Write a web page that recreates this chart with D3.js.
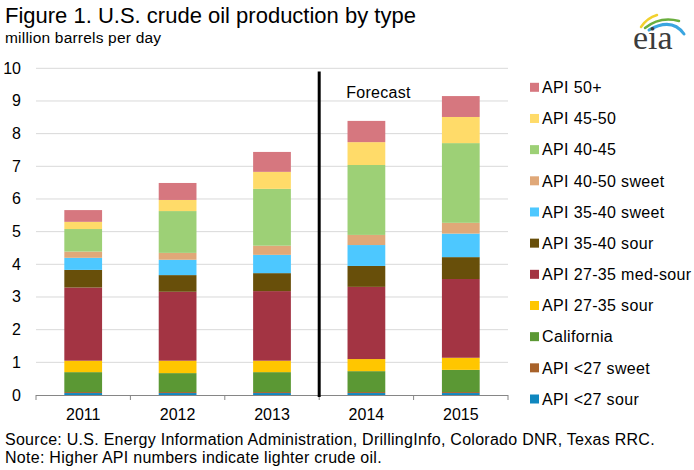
<!DOCTYPE html>
<html>
<head>
<meta charset="utf-8">
<script src="https://cdn.jsdelivr.net/npm/d3@7"></script>
<style>
  body { margin: 0; background: #fff; }
  svg { font-family: "Liberation Sans", Arial, sans-serif; }
</style>
</head>
<body>
<svg id="chart" width="694" height="470"></svg>
<script>
// years on the x axis
var years = ["2011", "2012", "2013", "2014", "2015"];

// series, bottom of the stack first
var seriesNames = ["API <27 sour", "API <27 sweet", "California", "API 27-35 sour", "API 27-35 med-sour",
  "API 35-40 sour", "API 35-40 sweet", "API 40-50 sweet", "API 40-45", "API 45-50", "API 50+"];
var seriesColors = ["#0f87bf", "#a8622a", "#5b9834", "#ffc600", "#a33443",
  "#684f0a", "#4dc8ff", "#e0a878", "#9dd076", "#ffdb69", "#d6777f"];

// million barrels per day, one value per year
var api27sour     = [0.06, 0.06, 0.06, 0.06, 0.06];
var api27sweet    = [0.03, 0.03, 0.03, 0.03, 0.03];
var california    = [0.61, 0.58, 0.61, 0.64, 0.68];
var api2735sour   = [0.35, 0.38, 0.35, 0.37, 0.37];
var api2735med    = [2.24, 2.11, 2.13, 2.21, 2.41];
var api3540sour   = [0.54, 0.51, 0.55, 0.64, 0.67];
var api3540sweet  = [0.37, 0.47, 0.56, 0.64, 0.72];
var api4050sweet  = [0.19, 0.21, 0.28, 0.31, 0.33];
var api4045       = [0.69, 1.28, 1.74, 2.14, 2.44];
var api4550       = [0.22, 0.34, 0.52, 0.70, 0.80];
var api50         = [0.36, 0.52, 0.61, 0.65, 0.64];

var seriesValues = [api27sour, api27sweet, california, api2735sour, api2735med,
  api3540sour, api3540sweet, api4050sweet, api4045, api4550, api50];

var yTicks = [0, 1, 2, 3, 4, 5, 6, 7, 8, 9, 10];
var forecastFrom = "2014";

// rows for d3.stack
var rows = years.map(function (yr, i) {
  var r = { year: yr };
  seriesNames.forEach(function (name, j) { r[name] = seriesValues[j][i]; });
  return r;
});

var svg = d3.select("#chart");

var x = d3.scaleBand().domain(years).range([36, 508]).paddingInner(0.6).paddingOuter(0.3);
var y = d3.scaleLinear().domain([0, 10]).range([395, 68.3]);

// gridlines
svg.append("g").selectAll("line")
  .data(yTicks.filter(function (d) { return d > 0; }))
  .enter().append("line")
  .attr("x1", 36).attr("x2", 508)
  .attr("y1", function (d) { return y(d); })
  .attr("y2", function (d) { return y(d); })
  .attr("stroke", "#d9d9d9").attr("stroke-width", 1);

// y labels
svg.append("g").selectAll("text")
  .data(yTicks)
  .enter().append("text")
  .attr("x", 21)
  .attr("y", function (d) { return y(d) + 5.5; })
  .attr("text-anchor", "end")
  .attr("font-size", 16)
  .text(function (d) { return d; });

// stacked bars
var stacked = d3.stack().keys(seriesNames)(rows);
svg.append("g").selectAll("g")
  .data(stacked)
  .enter().append("g")
  .attr("fill", function (d, i) { return seriesColors[i]; })
  .selectAll("rect")
  .data(function (d) { return d; })
  .enter().append("rect")
  .attr("x", function (d) { return x(d.data.year); })
  .attr("width", x.bandwidth())
  .attr("y", function (d) { return y(d[1]); })
  .attr("height", function (d) { return y(d[0]) - y(d[1]); });

// x axis line + ticks at band edges
var x0 = x.range()[0];
var edges = d3.range(years.length + 1).map(function (i) { return x0 + i * x.step(); });
svg.append("line")
  .attr("x1", 36).attr("x2", 508).attr("y1", 395.5).attr("y2", 395.5)
  .attr("stroke", "#868686").attr("stroke-width", 1);
svg.append("g").selectAll("line")
  .data(edges)
  .enter().append("line")
  .attr("x1", function (d) { return d; }).attr("x2", function (d) { return d; })
  .attr("y1", 395).attr("y2", 400)
  .attr("stroke", "#868686").attr("stroke-width", 1);

svg.append("g").selectAll("text")
  .data(years)
  .enter().append("text")
  .attr("x", function (d) { return x(d) + x.bandwidth() / 2; })
  .attr("y", 420)
  .attr("text-anchor", "middle")
  .attr("font-size", 16)
  .text(function (d) { return d; });

// forecast divider
var fx = x(forecastFrom) - x.step() * x.paddingInner() / 2;
svg.append("line")
  .attr("x1", fx).attr("x2", fx).attr("y1", 71.5).attr("y2", 397)
  .attr("stroke", "#000").attr("stroke-width", 3);
svg.append("text")
  .attr("x", fx + 27).attr("y", 98)
  .attr("font-size", 16).attr("letter-spacing", 0.3)
  .text("Forecast");

// legend, top entry is the top of the stack
var legendItems = seriesNames.slice().reverse();
var legendColors = seriesColors.slice().reverse();
var leg = svg.append("g").selectAll("g")
  .data(legendItems)
  .enter().append("g")
  .attr("transform", function (d, i) { return "translate(530," + (87.3 + i * 31.17) + ")"; });
leg.append("rect")
  .attr("x", 0).attr("y", -4.5).attr("width", 9).attr("height", 9)
  .attr("fill", function (d, i) { return legendColors[i]; });
leg.append("text")
  .attr("x", 12).attr("y", 5.8)
  .attr("font-size", 16).attr("letter-spacing", 0.35)
  .text(function (d) { return d; });

// titles and notes
svg.append("text").attr("x", 5).attr("y", 23).attr("font-size", 22).text("Figure 1. U.S. crude oil production by type");
svg.append("text").attr("x", 5).attr("y", 43).attr("font-size", 15.5).attr("letter-spacing", 0.2)
  .text("million barrels per day");
svg.append("text").attr("x", 5).attr("y", 445).attr("font-size", 16).attr("letter-spacing", 0.27)
  .text("Source: U.S. Energy Information Administration, DrillingInfo, Colorado DNR, Texas RRC.");
svg.append("text").attr("x", 5).attr("y", 463).attr("font-size", 16).attr("letter-spacing", 0.27)
  .text("Note: Higher API numbers indicate lighter crude oil.");

// eia logo
var logo = svg.append("g");
logo.append("path").attr("d", "M641,27 Q647,18 657,15").attr("fill", "none")
  .attr("stroke", "#f2d12e").attr("stroke-width", 2.5).attr("stroke-linecap", "round");
logo.append("path").attr("d", "M645,28 Q660,16 679,21").attr("fill", "none")
  .attr("stroke", "#6aae3e").attr("stroke-width", 2.5).attr("stroke-linecap", "round");
logo.append("path").attr("d", "M649,30 Q672,17 684,34").attr("fill", "none")
  .attr("stroke", "#3aa5e0").attr("stroke-width", 3).attr("stroke-linecap", "round");
logo.append("text").attr("x", 633).attr("y", 49)
  .attr("font-family", "'Liberation Serif', 'DejaVu Serif', serif")
  .attr("font-size", 34).attr("fill", "#3c3c3c")
  .text("eia");
</script>
</body>
</html>
